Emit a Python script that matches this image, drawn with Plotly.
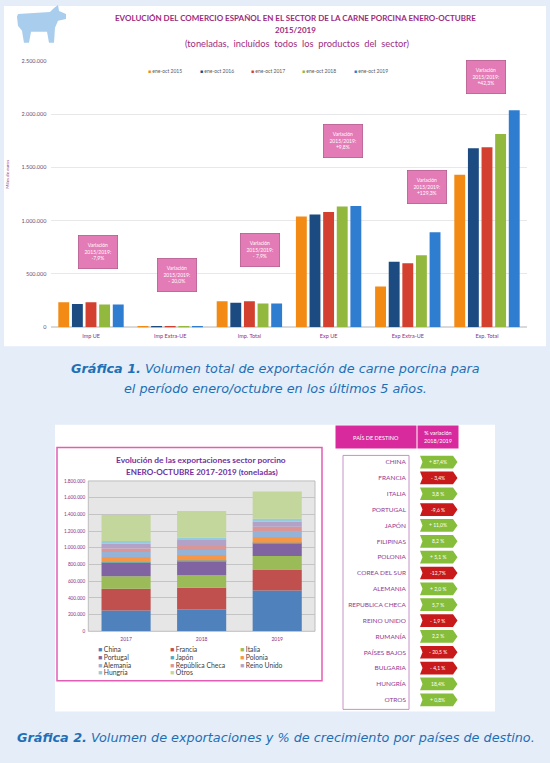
import numpy as np
import plotly.graph_objects as go

W, H = 550, 763


def px(x):
    return x / W


def py(y):
    return 1 - y / H


# ---- Gráfica 1: comercio 2015-2019 ----
categorias = ["Imp UE", "Imp Extra-UE", "Imp. Total", "Exp UE", "Exp Extra-UE", "Exp. Total"]
series_g1 = ["ene-oct 2015", "ene-oct 2016", "ene-oct 2017", "ene-oct 2018", "ene-oct 2019"]
ene_oct_2015 = [233000, 10000, 243000, 1039000, 382000, 1431000]
ene_oct_2016 = [218000, 10000, 228000, 1058000, 613000, 1679000]
ene_oct_2017 = [233000, 10000, 243000, 1082000, 601000, 1689000]
ene_oct_2018 = [213000, 9000, 222000, 1132000, 675000, 1813000]
ene_oct_2019 = [213000, 8000, 221000, 1138000, 890000, 2038000]
variacion_g1 = ["-7,9%", "- 20,0%", "- 7,9%", "+9,8%", "+129,3%", "+42,3%"]
variacion_g1_y = [706000, 491000, 724000, 1750000, 1320000, 2345000]
variacion_g1_dx = [7, 7, 11, 14, 19, -1]

# ---- Gráfica 2: exportaciones 2017-2019 ----
anios = ["2017", "2018", "2019"]
paises_g2 = ["China", "Francia", "Italia", "Portugal", "Japón", "Polonia",
             "Alemania", "República Checa", "Reino Unido", "Hungría", "Otros"]
china = [248000, 260000, 488000]
francia = [260000, 260000, 252000]
italia = [152000, 152000, 160000]
portugal = [160000, 167000, 152000]
japon = [8000, 8000, 8000]
polonia = [60000, 65000, 68000]
alemania = [60000, 60000, 64000]
rep_checa = [44000, 48000, 60000]
reino_unido = [60000, 72000, 60000]
hungria = [28000, 28000, 36000]
otros = [312000, 320000, 324000]

# ---- Tabla de variación 2018/2019 ----
paises_tabla = ["CHINA", "FRANCIA", "ITALIA", "PORTUGAL", "JAPÓN", "FILIPINAS", "POLONIA",
                "COREA DEL SUR", "ALEMANIA", "REPUBLICA CHECA", "REINO UNIDO", "RUMANÍA",
                "PAÍSES BAJOS", "BULGARIA", "HUNGRÍA", "OTROS"]
variacion_tabla = [87.4, -3.4, 3.8, -9.6, 11.0, 8.2, 5.1, -12.7, 2.0, 5.7, -1.9, 2.2,
                   -20.5, -4.1, 18.4, 0.8]
etiquetas_tabla = ["+ 87,4%", "- 3,4%", "3,8 %", "-9,6 %", "+ 11,0%", "8,2 %", "+ 5,1 %",
                   "-12,7%", "+ 2,0 %", "5,7 %", "- 1,9 %", "2,2 %", "- 20,5 %", "- 4,1 %",
                   "18,4%", "+ 0,8%"]

colores_g1 = ["#F28A14", "#1C4B82", "#D3402F", "#92B83E", "#2E7DD1"]
colores_g2 = ["#4F81BD", "#C0504D", "#9BBB59", "#8064A2", "#4BACC6", "#F79646",
              "#95B3D7", "#D99694", "#B3A2C7", "#93CDDD", "#C3D69B"]

morado = "#8A3384"
fuente = "Lato"

fig = go.Figure()

for nombre, valores, color in zip(series_g1,
                                  [ene_oct_2015, ene_oct_2016, ene_oct_2017, ene_oct_2018, ene_oct_2019],
                                  colores_g1):
    fig.add_trace(go.Bar(x=categorias, y=valores, name=nombre, marker_color=color,
                         marker_line_width=0, xaxis="x", yaxis="y", showlegend=False))

datos_g2 = [china, francia, italia, portugal, japon, polonia, alemania,
            rep_checa, reino_unido, hungria, otros]
base = np.zeros(len(anios))
for nombre, valores, color in zip(paises_g2, datos_g2, colores_g2):
    fig.add_trace(go.Bar(x=anios, y=valores, base=base.copy(), name=nombre,
                         marker_color=color, marker_line_width=0,
                         width=0.65, offset=-0.325, offsetgroup="pila",
                         xaxis="x2", yaxis="y2", showlegend=False))
    base = base + np.array(valores)

# invisible trace so the table axes exist
fig.add_trace(go.Scatter(x=[0.5] * len(paises_tabla), y=list(range(len(paises_tabla))),
                         mode="markers", marker_opacity=0, hoverinfo="skip",
                         xaxis="x3", yaxis="y3", showlegend=False))

shapes = []
# panels
shapes.append(dict(type="rect", xref="paper", yref="paper", x0=px(4), x1=px(546),
                   y0=py(346), y1=py(3), fillcolor="white", line_width=0, layer="below"))
shapes.append(dict(type="rect", xref="paper", yref="paper", x0=px(55), x1=px(495),
                   y0=py(714), y1=py(425), fillcolor="white", line_width=0, layer="below"))
# chart 2 frame
shapes.append(dict(type="rect", xref="paper", yref="paper", x0=px(57), x1=px(322),
                   y0=py(683), y1=py(448), line=dict(color="#E25DB4", width=1.5),
                   fillcolor="rgba(0,0,0,0)"))
shapes.append(dict(type="rect", xref="x2 domain", yref="y2 domain", x0=0, x1=1, y0=0, y1=1,
                   fillcolor="#E6E6E6", line=dict(color="#B0B0B0", width=0.8), layer="below"))
# table box around names
shapes.append(dict(type="rect", xref="paper", yref="paper", x0=px(343), x1=px(409),
                   y0=py(712), y1=py(456), line=dict(color="#C792C8", width=1),
                   fillcolor="rgba(0,0,0,0)"))

# pig icon
cerdo = [(18, 11), (50, 9), (54, 5), (58, 2), (59, 8), (66, 11), (66, 16), (58, 18),
         (55, 25), (54, 40), (49, 40), (47, 29), (31, 29), (29, 40), (24, 40), (22, 28),
         (18, 23), (17, 14)]
ruta = "M " + " L ".join(f"{px(a):.4f},{py(b):.4f}" for a, b in cerdo) + " Z"
shapes.append(dict(type="path", xref="paper", yref="paper", path=ruta,
                   fillcolor="#A9CDEC", line_width=0))

# table arrows
annotations = []
for i, (v, txt) in enumerate(zip(variacion_tabla, etiquetas_tabla)):
    col = "#86BE3B" if v >= 0 else "#C81A1A"
    ruta = (f"M 0.2,{i - 0.4} L 0.86,{i - 0.4} L 0.95,{i} L 0.86,{i + 0.4} "
            f"L 0.2,{i + 0.4} L 0.25,{i} Z")
    shapes.append(dict(type="path", xref="x3", yref="y3", path=ruta,
                       fillcolor=col, line_width=0))
    annotations.append(dict(x=0.55, y=i, xref="x3", yref="y3", text=txt, showarrow=False,
                            xanchor="center", yanchor="middle",
                            font=dict(family=fuente, size=5, color="white")))

# variation boxes chart 1
for cat, txt, yv, dx in zip(categorias, variacion_g1, variacion_g1_y, variacion_g1_dx):
    annotations.append(dict(x=cat, y=yv, xref="x", yref="y", xshift=dx, showarrow=False,
                            xanchor="center", yanchor="middle",
                            text=f"Variación<br>2015/2019:<br>{txt}",
                            width=36, height=30, bgcolor="#E27BB6", bordercolor="#B45A8E",
                            borderwidth=0.8, font=dict(family=fuente, size=5, color="white")))


def texto(x, y, txt, size, color, bold=False, family=fuente, **kw):
    if bold:
        txt = f"<b>{txt}</b>"
    d = dict(x=px(x), y=py(y), xref="paper", yref="paper", showarrow=False,
             xanchor="center", yanchor="middle", text=txt,
             font=dict(family=family, size=size, color=color))
    d.update(kw)
    return d


titulo_col = "#9E2A7E"
azul = "#1E6FB6"
cap_font = "DejaVu Sans"
annotations += [
    texto(295, 15, "EVOLUCIÓN DEL COMERCIO ESPAÑOL EN EL SECTOR DE LA CARNE PORCINA ENERO-OCTUBRE",
          8, titulo_col, bold=True),
    texto(295, 27, "2015/2019", 8, titulo_col, bold=True),
    texto(297, 41, "(toneladas,  incluídos  todos  los  productos  del  sector)", 9.3, titulo_col),
    texto(8, 173, "Miles de euros", 4.5, morado, textangle=-90),
    texto(201, 461, "Evolución de las exportaciones sector porcino", 8.4, "#7030A0", bold=True),
    texto(202, 473, "ENERO-OCTUBRE 2017-2019 (toneladas)", 8.1, "#7030A0", bold=True),
    texto(376, 437, "PAÍS DE DESTINO", 5.5, "white", width=78, height=20, bgcolor="#D92A9D"),
    texto(438, 437, "% variación<br>2018/2019", 5.5, "white", width=38, height=20,
          bgcolor="#D92A9D"),
    texto(275, 368, "<i><b>Gráfica 1.</b> Volumen total de exportación de carne porcina para</i>",
          12.8, azul, family=cap_font),
    texto(275, 389, "<i>el período enero/octubre en los últimos 5 años.</i>", 12.8, azul,
          family=cap_font),
    texto(276, 740, "<i><b>Gráfica 2.</b> Volumen de exportaciones y % de crecimiento por "
                    "países de destino.</i>", 12.8, azul, family=cap_font),
]

# legend chart 1
leg1_x = [148, 200, 251, 302, 354]
for nombre, color, xl in zip(series_g1, colores_g1, leg1_x):
    annotations.append(texto(xl - 2, 68.5, f"<span style='color:{color}'>■</span> {nombre}",
                             5, "#595959", xanchor="left"))

# legend chart 2 (3 columns)
leg2_x = [97, 169, 239]
leg2_y = [651, 659, 667, 674.5]
for k, (nombre, color) in enumerate(zip(paises_g2, colores_g2)):
    annotations.append(texto(leg2_x[k % 3], leg2_y[k // 3],
                             f"<span style='color:{color}'>■</span> {nombre}",
                             6.8, "#404040", xanchor="left", borderpad=0))

fig.update_layout(
    width=W, height=763, autosize=False,
    margin=dict(l=0, r=0, t=0, b=0),
    paper_bgcolor="#E4EDF8", plot_bgcolor="rgba(0,0,0,0)",
    separators=",.",
    barmode="group", bargap=0.14, bargroupgap=0.2,
    font=dict(family=fuente),
    shapes=shapes, annotations=annotations,
    xaxis=dict(domain=[px(51.4), px(526.6)], anchor="y", type="category", showgrid=False,
               showline=False, ticks="", ticklabelstandoff=4,
               tickfont=dict(size=5.5, color=morado)),
    yaxis=dict(domain=[py(326.7), py(58.4)], anchor="x", range=[0, 2500000], dtick=500000,
               tickformat=",.0f", showgrid=True, gridcolor="#E8E8E8", gridwidth=1,
               zeroline=True, zerolinecolor="#D9D9D9", ticks="", ticklabelstandoff=4,
               tickfont=dict(size=5.5, color="#6E4A6E")),
    xaxis2=dict(domain=[px(88.3), px(315)], anchor="y2", type="category", showgrid=False,
                showline=False, ticks="", ticklabelstandoff=4,
                tickfont=dict(size=5, color=morado)),
    yaxis2=dict(domain=[py(633.3), py(481.7)], anchor="x2", range=[0, 1800000], dtick=200000,
                tickformat=",.0f", showgrid=True, gridcolor="#C4C4C4", gridwidth=0.8,
                zeroline=False, ticks="", ticklabelstandoff=2,
                tickfont=dict(size=4.7, color=morado)),
    xaxis3=dict(domain=[px(410), px(460)], anchor="y3", range=[0, 1], visible=False,
                fixedrange=True),
    yaxis3=dict(domain=[py(710.3), py(454.7)], range=[15.5, -0.5], anchor="x3",
                tickvals=list(range(len(paises_tabla))), ticktext=paises_tabla,
                showgrid=False, zeroline=False, showline=False, ticks="",
                ticklabelstandoff=3, tickfont=dict(size=6.5, color="#94398F")),
)

fig.write_html("out.html", config={"displayModeBar": False},
               post_script="document.body.style.margin='0';")
